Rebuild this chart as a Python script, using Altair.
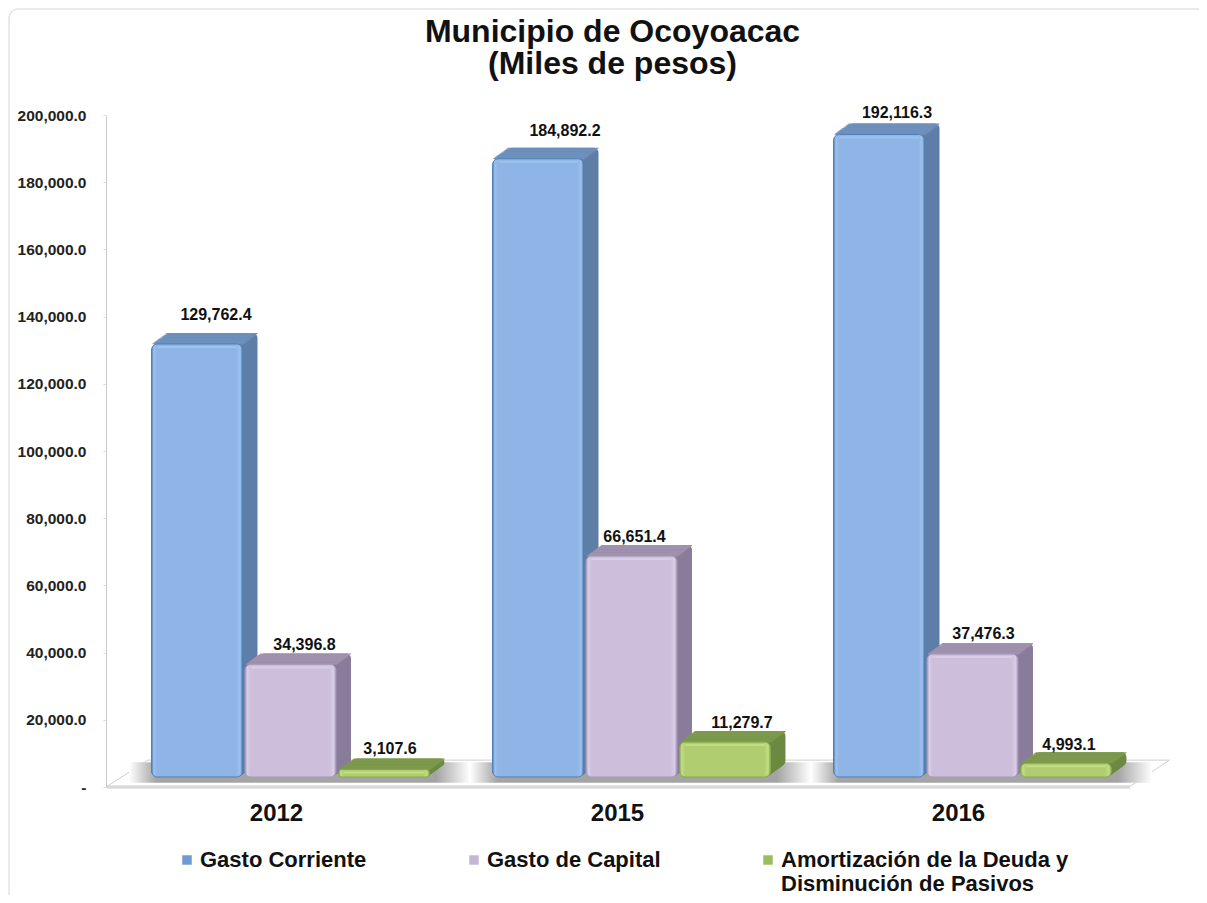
import altair as alt
import pandas as pd

years = ["2012", "2015", "2016"]
series = ["Gasto Corriente", "Gasto de Capital", "Amortización de la Deuda y|Disminución de Pasivos"]
gasto_corriente = [129762.4, 184892.2, 192116.3]
gasto_capital = [34396.8, 66651.4, 37476.3]
amortizacion = [3107.6, 11279.7, 4993.1]
y_ticks = [0, 20000, 40000, 60000, 80000, 100000, 120000, 140000, 160000, 180000, 200000]

front = ["#8FB4E6", "#CDBFDC", "#B0CE70"]
side = ["#5F7FA8", "#8A7C9A", "#6C8A42"]
top = ["#6E90BC", "#A092AE", "#7E9A4C"]
rim = ["#4F7FB5", "#A79ABA", "#86A84C"]
shine = ["#9DC2EE", "#D8CDE6", "#C2DE84"]

rows = []
for s, vals in enumerate([gasto_corriente, gasto_capital, amortizacion]):
    for y, v in zip(years, vals):
        rows.append(dict(year=y, series=series[s], value=v, zero=0, top_low=v - 330,
                         shine_low=v - 600, side=side[s], top=top[s]))
df = pd.DataFrame(rows)

floor = pd.DataFrame({"fx": [0.0, 0.041, 1.0, 1.0395],
                      "ftop": [0, 8000, 8000, 8000],
                      "fbot": [0, 0, 0, 8000]})

W, H = 1023, 672
DX, DY_TOP, DY_BASE, DEPTH = 14, -7, -10, 15
yscale = alt.Scale(domain=[0, 200000])
yaxis = alt.Axis(
    values=y_ticks, title=None, grid=False, domainColor="#cccccc", tickColor="#dddddd", zindex=1,
    tickSize=3, labelPadding=17, labelFont="Liberation Sans", labelFontWeight="bold",
    labelFontSize=15.5, labelColor="#222222", labelBaseline="middle",
    labelExpr="datum.value == 0 ? '-\u00a0\u00a0' : format(datum.value, ',.1f')")
oscale = alt.Scale(type="band", domain=series, paddingInner=0.027, paddingOuter=0)
XO = alt.XOffset("series:N", scale=oscale, sort=series)
Y = alt.Y("value:Q", scale=yscale, stack=None, axis=yaxis)


def X(shift=0.0):
    return alt.X("year:N", sort=years, axis=None, scale=alt.Scale(
        type="band", domain=years, range=[shift, W + shift], paddingInner=0.185, paddingOuter=0.0925))


def grad(colors, offs):
    return alt.LinearGradient(gradient="linear", x1=0, x2=1, y1=0, y2=0,
                              stops=[alt.GradientStop(color=c, offset=o) for c, o in zip(colors, offs)])


base = alt.Chart(df)
layers = []

# card outline
layers.append(alt.Chart(pd.DataFrame({"a": [0]})).mark_rect(
    fill="transparent", stroke="#e4e4e4", strokeWidth=1.5, cornerRadius=9
).encode(x=alt.value(-97), x2=alt.value(1300), y=alt.value(-106), y2=alt.value(1000)))

# floor
layers.append(alt.Chart(floor).mark_area(
    color="white", stroke="#cfcfcf", strokeWidth=1
).encode(
    x=alt.X("fx:Q", axis=None, scale=alt.Scale(domain=[0, 1])),
    y=alt.Y("ftop:Q", scale=yscale, axis=yaxis),
    y2="fbot:Q",
))

# floor shadow behind each group
layers.append(alt.Chart(pd.DataFrame({"year": years, "lo": [1300] * 3, "hi": [7400] * 3})).mark_bar(
    fill=grad(["#ffffff", "#a4a4a4", "#a4a4a4", "#ffffff"], [0, 0.08, 0.9, 1]),
).encode(
    x=alt.X("year:N", sort=years, axis=None, scale=alt.Scale(
        type="band", domain=years, range=[23, W + 23], paddingInner=0.0, paddingOuter=0.0)),
    y=alt.Y("lo:Q", scale=yscale, axis=yaxis), y2="hi:Q",
))
layers.append(alt.Chart(floor).mark_rule(color="#d9d9d9", strokeWidth=2.5).encode(
    x=alt.value(1), x2=alt.value(W + 1), y=alt.value(H)
))

# extruded side faces, back to front
for k in range(DEPTH, 0, -1):
    lift = k * -11 / DEPTH
    layers.append(base.mark_bar(cornerRadius=5, yOffset=DY_TOP + lift, y2Offset=DY_BASE + lift).encode(
        x=X(DX + k), xOffset=XO, y=Y, y2="zero:Q", color=alt.Color("side:N", scale=None)))
# extruded top faces, back to front
for k in range(DEPTH, 0, -1):
    lift = DY_TOP + k * -11 / DEPTH
    layers.append(base.mark_bar(yOffset=lift, y2Offset=lift).encode(
        x=X(DX + k), xOffset=XO, y=Y, y2="top_low:Q", color=alt.Color("top:N", scale=None)))

# flat front faces, which carry the legend
layers.append(base.mark_bar(cornerRadius=6, yOffset=DY_TOP, y2Offset=DY_BASE).encode(
    x=X(DX), xOffset=XO, y=Y, y2="zero:Q",
    color=alt.Color("series:N", sort=series, scale=alt.Scale(domain=series, range=["#6E9BD2", "#C4B6D6", "#9CBE5E"]),
                    legend=alt.Legend(
                        orient="none", legendX=70, legendY=734, title=None, columns=3, columnPadding=96,
                        symbolType="square", symbolSize=90, symbolStrokeWidth=1,
                        labelFont="Liberation Sans", labelFontWeight="bold", labelFontSize=22,
                        labelColor="#111111", labelLimit=500, labelOffset=2,
                        labelExpr="split(indexof(datum.label, '|') < 0 ? datum.label + '| ' : datum.label, '|')")),
))
# bevelled faces
for i, s in enumerate(series):
    layers.append(base.transform_filter(alt.datum.series == s).mark_bar(
        cornerRadius=6, yOffset=DY_TOP, y2Offset=DY_BASE, stroke=rim[i], strokeWidth=1,
        fill=grad([rim[i], shine[i], front[i], front[i], shine[i], rim[i]],
                  [0, 0.025, 0.06, 0.93, 0.975, 1]),
    ).encode(x=X(DX), xOffset=XO, y=Y, y2="zero:Q"))
    layers.append(base.transform_filter(alt.datum.series == s).mark_bar(
        yOffset=DY_TOP + 2, y2Offset=DY_TOP + 2, color=shine[i], width=80, cornerRadius=1,
    ).encode(x=X(DX), xOffset=XO, y=Y, y2="shine_low:Q"))

# value labels, each nudged as in the reference
nudges = {
    "2012": [(19, -36), (14, -26), (6, -28)],
    "2015": [(27, -35), (3, -26), (17, -26)],
    "2016": [(18, -28), (11, -27), (3, -25)],
}
for yr in years:
    for i, s in enumerate(series):
        nx, ny = nudges[yr][i]
        layers.append(base.transform_filter((alt.datum.year == yr) & (alt.datum.series == s)).mark_text(
            font="Liberation Sans", fontWeight="bold", fontSize=16, color="#111111",
            dx=nx, dy=ny, baseline="middle",
        ).encode(x=X(14), xOffset=XO, y=Y, text=alt.Text("value:Q", format=",.1f")))

# year axis carrier
layers.append(alt.Chart(pd.DataFrame({"year": years})).mark_point(opacity=0).encode(
    x=alt.X("year:N", sort=years, scale=alt.Scale(
        type="band", domain=years, range=[0, W], paddingInner=0.177, paddingOuter=0.0885),
        axis=alt.Axis(title=None, domain=False, ticks=False, labelAngle=0, labelPadding=14, zindex=1,
                      labelFont="Liberation Sans", labelFontWeight="bold", labelFontSize=24,
                      labelColor="#111111")),
))

chart = alt.layer(*layers).resolve_scale(x="independent", xOffset="independent").properties(
    width=W, height=H,
    padding={"left": 98, "top": 107, "right": 70, "bottom": 108},
    autosize=alt.AutoSizeParams(type="none"),
    background="white",
    title=alt.TitleParams(
        text=["Municipio de Ocoyoacac", "(Miles de pesos)"], anchor="middle", dx=-5, offset=-73,
        font="Liberation Sans", fontWeight="bold", fontSize=32, lineHeight=32, color="#111111"),
).configure_view(stroke=None)

chart.save("out.html", embed_options={"renderer": "svg", "actions": False})
